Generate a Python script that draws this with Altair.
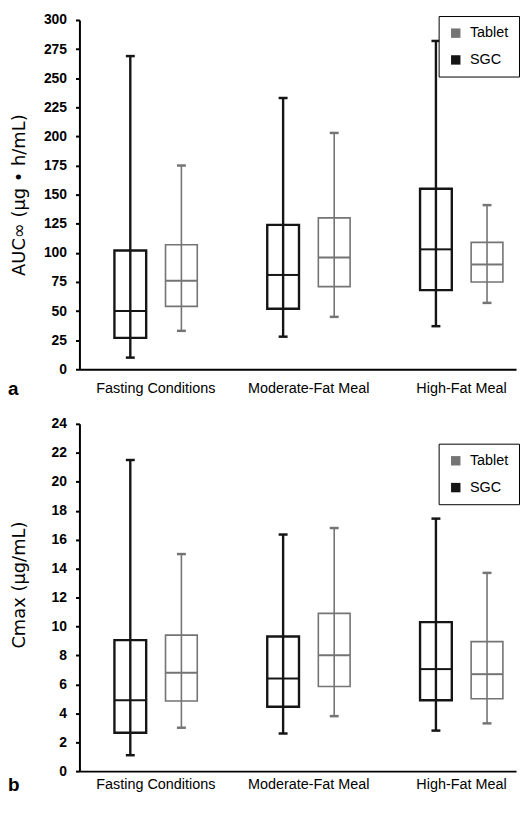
import altair as alt
import pandas as pd

categories = ["Fasting Conditions", "Moderate-Fat Meal", "High-Fat Meal"]
series_order = ["SGC", "Tablet"]
legend_order = ["Tablet", "SGC"]

# Panel a: AUC (ug*h/mL) box statistics per category
auc_sgc_min = [10, 28, 37]
auc_sgc_q1 = [27, 52, 68]
auc_sgc_med = [50, 81, 103]
auc_sgc_q3 = [102, 124, 155]
auc_sgc_max = [269, 233, 282]
auc_tab_min = [33, 45, 57]
auc_tab_q1 = [54, 71, 75]
auc_tab_med = [76, 96, 90]
auc_tab_q3 = [107, 130, 109]
auc_tab_max = [175, 203, 141]

# Panel b: Cmax (ug/mL) box statistics per category
cmax_sgc_min = [1.1, 2.6, 2.8]
cmax_sgc_q1 = [2.65, 4.45, 4.9]
cmax_sgc_med = [4.9, 6.4, 7.05]
cmax_sgc_q3 = [9.05, 9.3, 10.3]
cmax_sgc_max = [21.5, 16.35, 17.45]
cmax_tab_min = [3.0, 3.8, 3.3]
cmax_tab_q1 = [4.85, 5.85, 5.0]
cmax_tab_med = [6.8, 8.0, 6.7]
cmax_tab_q3 = [9.4, 10.9, 8.95]
cmax_tab_max = [15.0, 16.8, 13.7]

auc_ticks = [0, 25, 50, 75, 100, 125, 150, 175, 200, 225, 250, 275, 300]
cmax_ticks = [0, 2, 4, 6, 8, 10, 12, 14, 16, 18, 20, 22, 24]
panel_letters = ["a", "b"]

SANS = "'Liberation Sans', Arial, sans-serif"
WIDE = "'DejaVu Sans', sans-serif"
BLACK = "#151515"
GRAY = "#747474"


def table(sgc, tab):
    rows = []
    for name, stats in (("SGC", sgc), ("Tablet", tab)):
        for i, cat in enumerate(categories):
            rows.append({"cat": cat, "series": name, "lo": stats[0][i], "q1": stats[1][i],
                         "med": stats[2][i], "q3": stats[3][i], "hi": stats[4][i]})
    return pd.DataFrame(rows)


auc_df = table((auc_sgc_min, auc_sgc_q1, auc_sgc_med, auc_sgc_q3, auc_sgc_max),
               (auc_tab_min, auc_tab_q1, auc_tab_med, auc_tab_q3, auc_tab_max))
cmax_df = table((cmax_sgc_min, cmax_sgc_q1, cmax_sgc_med, cmax_sgc_q3, cmax_sgc_max),
                (cmax_tab_min, cmax_tab_q1, cmax_tab_med, cmax_tab_q3, cmax_tab_max))

PLOT_W = 440


def panel(df, ytitle, ymax, yticks, letter, height, legend_y, title_y, label_pad,
          letter_off, legend_extra):
    x = alt.X("cat:N", sort=categories, title=None,
              scale=alt.Scale(paddingInner=0.343, paddingOuter=0.1, align=0.8575),
              axis=alt.Axis(labelAngle=0, ticks=False, domainWidth=2, domainColor="black",
                            labelFont=SANS, labelFontSize=14.5, labelPadding=label_pad,
                            labelColor="black"))
    xo = alt.XOffset("series:N", sort=series_order,
                     scale=alt.Scale(paddingInner=0.035, paddingOuter=0, align=0.5))
    yscale = alt.Scale(domain=[0, ymax], nice=False, padding=0)
    yaxis = alt.Axis(title=ytitle, values=yticks, grid=False, domainWidth=2, domainColor="black",
                     tickColor="black", tickWidth=2, tickSize=4, labelFont=SANS,
                     labelFontSize=14, labelFontWeight="bold", labelColor="black", labelPadding=9,
                     titleFont=WIDE, titleFontSize=18, titleFontWeight="normal",
                     titleColor="black", titleX=-60, titleY=title_y, titleBaseline="middle",
                     titleAlign="center")
    cscale = alt.Scale(domain=legend_order, range=[GRAY, BLACK])
    sw = alt.StrokeWidth("series:N", scale=alt.Scale(domain=series_order, range=[2.4, 1.6]),
                         legend=None)
    nolegend = alt.Color("series:N", scale=cscale, legend=None)
    leg = alt.Legend(title=None, orient="none", legendX=PLOT_W - 78, legendY=legend_y,
                     direction="vertical", symbolType="square", symbolSize=90,
                     symbolStrokeWidth=0, symbolOpacity=1, labelFont=SANS, labelFontSize=14.5,
                     labelColor="black", labelOffset=7, rowPadding=12, padding=10,
                     strokeColor="black", fillColor="white", **legend_extra)

    base = alt.Chart(df).encode(x=x, xOffset=xo)
    med = base.mark_tick(size=32, thickness=2, opacity=1).encode(
        y=alt.Y("med:Q", scale=yscale, axis=yaxis),
        color=alt.Color("series:N", scale=cscale, legend=leg))
    whisk = base.mark_rule(opacity=1).encode(
        y=alt.Y("lo:Q", scale=yscale, axis=yaxis), y2="hi:Q", color=nolegend, strokeWidth=sw)
    box = base.mark_bar(filled=False, width=32, opacity=1).encode(
        y=alt.Y("q1:Q", scale=yscale, axis=yaxis), y2="q3:Q", color=nolegend, strokeWidth=sw)
    cap_lo = base.mark_tick(size=9, thickness=2.5, opacity=1).encode(
        y=alt.Y("lo:Q", scale=yscale, axis=yaxis), color=nolegend)
    cap_hi = base.mark_tick(size=9, thickness=2.5, opacity=1).encode(
        y=alt.Y("hi:Q", scale=yscale, axis=yaxis), color=nolegend)
    tag = alt.Chart(pd.DataFrame({"letter": [letter]})).mark_text(
        align="left", baseline="alphabetic", font=SANS, fontSize=19, fontWeight="bold",
        color="black"
    ).encode(text="letter:N", x=alt.value(-72), y=alt.value(height + letter_off))
    return alt.layer(med, whisk, box, cap_lo, cap_hi, tag).properties(width=PLOT_W, height=height)


def build(legend_extra):
    pa = panel(auc_df, "AUC∞ (µg • h/mL)", 300, auc_ticks, panel_letters[0], 352, -4, 176,
               12, 26, legend_extra)
    pb = panel(cmax_df, "Cmax (µg/mL)", 24, cmax_ticks, panel_letters[1], 350, 20, 162,
               7, 20, legend_extra)
    return alt.vconcat(pa, pb, spacing=18).resolve_scale(
        color="independent", x="independent", y="independent", xOffset="independent",
        strokeWidth="independent"
    ).resolve_legend(color="independent").configure_view(stroke=None).properties(
        padding={"left": 0, "top": 2, "right": 0, "bottom": 0}
    )


try:
    chart = build({"strokeWidth": 2})
    chart.to_dict()
except Exception:
    chart = build({})

chart.save("out.html", embed_options={"renderer": "svg", "actions": False})
